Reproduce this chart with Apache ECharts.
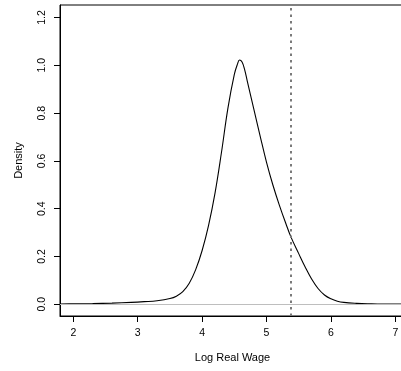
<!DOCTYPE html>
<html>
<head>
<meta charset="utf-8">
<script src="https://cdn.jsdelivr.net/npm/echarts@6/dist/echarts.min.js"></script>
<style>html,body{margin:0;padding:0;background:#fff;overflow:hidden}#c{width:412px;height:371px}</style>
</head>
<body>
<div id="c"></div>
<script>
var wageX = [1.8, 2.0, 2.3, 2.6, 2.9, 3.1, 3.3, 3.5, 3.6, 3.7, 3.8, 3.9, 4.0, 4.1, 4.2, 4.3, 4.4, 4.5, 4.55, 4.58, 4.62, 4.66, 4.7, 4.8, 4.9, 5.0, 5.1, 5.2, 5.3, 5.38, 5.5, 5.6, 5.7, 5.8, 5.9, 6.0, 6.1, 6.2, 6.4, 6.6, 6.8, 7.0, 7.2];
var densityY = [0.001, 0.002, 0.003, 0.005, 0.008, 0.011, 0.015, 0.024, 0.034, 0.053, 0.088, 0.145, 0.225, 0.33, 0.465, 0.635, 0.82, 0.962, 1.006, 1.022, 1.014, 0.982, 0.935, 0.82, 0.705, 0.594, 0.498, 0.414, 0.338, 0.281, 0.212, 0.156, 0.106, 0.066, 0.039, 0.023, 0.013, 0.008, 0.004, 0.002, 0.001, 0.001, 0.0005];
var xTicks = [2, 3, 4, 5, 6, 7];
var yTicks = [0, 0.2, 0.4, 0.6, 0.8, 1.0, 1.2];
var vLine = [5.38];
var hLine = [0];

var pts = wageX.map(function (x, i) { return [x, densityY[i]]; });
var font = 'Liberation Sans, Arial, sans-serif';
var chart = echarts.init(document.getElementById('c'), null, {renderer: 'canvas'});
chart.setOption({
  animation: false,
  backgroundColor: '#fff',
  grid: {left: 60, top: 5, width: 345, height: 311, show: true, borderColor: '#000', borderWidth: 1, backgroundColor: 'transparent'},
  xAxis: {
    type: 'value', min: 1.793, max: 1.793 + 345 / 64.4,
    name: 'Log Real Wage', nameLocation: 'middle', nameGap: 36,
    nameTextStyle: {fontFamily: font, fontSize: 11, color: '#000'},
    axisLine: {show: true, onZero: false, lineStyle: {color: '#000', width: 1}},
    axisTick: {show: true, inside: false, length: 6, customValues: xTicks, lineStyle: {color: '#000'}},
    axisLabel: {customValues: xTicks, margin: 12, fontFamily: font, fontSize: 10.5, color: '#000',
      formatter: function (v) { return String(v); }},
    splitLine: {show: false}
  },
  yAxis: {
    type: 'value', min: -0.049, max: -0.049 + 311 / 239,
    name: 'Density', nameLocation: 'middle', nameGap: 36, nameRotate: 90,
    nameTextStyle: {fontFamily: font, fontSize: 11, color: '#000'},
    axisLine: {show: true, onZero: false, lineStyle: {color: '#000', width: 1}},
    axisTick: {show: true, inside: false, length: 6, customValues: yTicks, lineStyle: {color: '#000'}},
    axisLabel: {customValues: yTicks, rotate: 90, margin: 12, fontFamily: font, fontSize: 10.5, color: '#000',
      formatter: function (v) { return v.toFixed(1); }},
    splitLine: {show: false}
  },
  series: [
    {
      type: 'line', data: [], silent: true,
      markLine: {
        silent: true, symbol: 'none', animation: false,
        label: {show: false},
        data: [
          {yAxis: hLine[0], lineStyle: {color: '#bebebe', width: 1, type: 'solid'}},
          {xAxis: vLine[0], lineStyle: {color: '#7a7a7a', width: 2, type: [2.5, 4]}}
        ]
      }
    },
    {
      type: 'line', data: pts, symbol: 'none', smooth: 0.4, clip: true,
      lineStyle: {color: '#000', width: 1.1}
    }
  ]
});
</script>
</body>
</html>
